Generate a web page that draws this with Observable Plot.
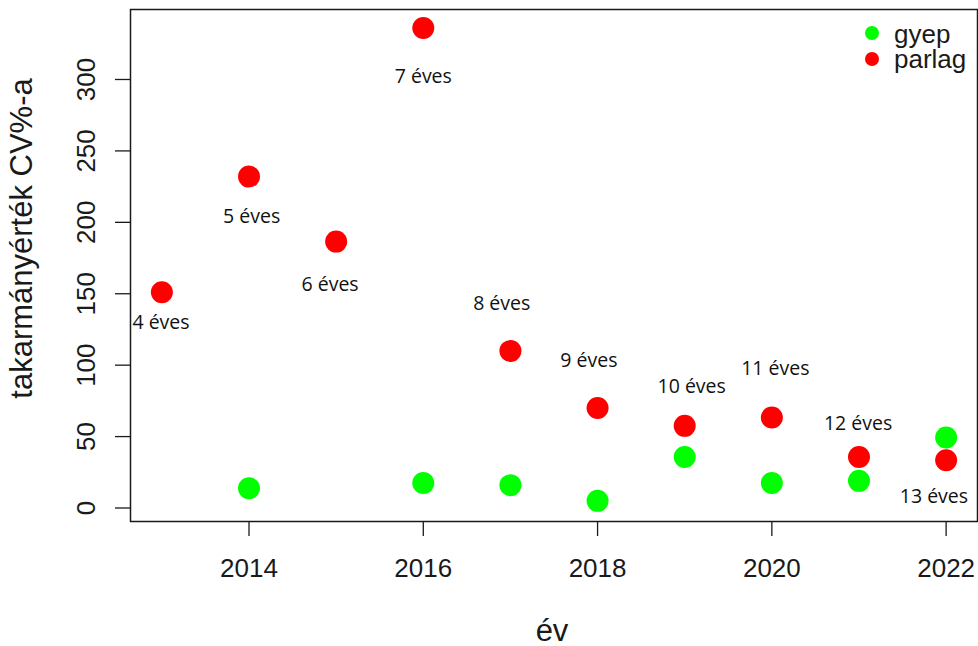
<!DOCTYPE html>
<html>
<head>
<meta charset="utf-8">
<script src="https://cdn.jsdelivr.net/npm/d3@7"></script>
<script src="https://cdn.jsdelivr.net/npm/@observablehq/plot@0.6"></script>
<style>
  html, body { margin: 0; padding: 0; background: #fff; }
  #chart { width: 978px; height: 646px; }
</style>
</head>
<body>
<div id="chart"></div>
<script>
// ---- data ----
const years   = [2013, 2014, 2015, 2016, 2017, 2018, 2019, 2020, 2021, 2022];
const parlag  = [151, 232, 186.5, 336, 110, 70, 57.5, 63.3, 35.7, 33.4];
const gyep    = [null, 13.8, null, 17.5, 16, 5, 35.7, 17.5, 19, 49.3];
const ageLabels = ["4 éves", "5 éves", "6 éves", "7 éves", "8 éves", "9 éves", "10 éves", "11 éves", "12 éves", "13 éves"];
const labelYear  = [2012.99, 2014.03, 2014.93, 2016.0, 2016.9, 2017.9, 2019.08, 2020.04, 2020.99, 2021.86];
const labelValue = [130, 203.7, 156.5, 301.7, 143.2, 103.3, 85.1, 97.7, 58.8, 7.7];
const xTicks = [2014, 2016, 2018, 2020, 2022];
const yTicks = [0, 50, 100, 150, 200, 250, 300];
const seriesNames = ["gyep", "parlag"];
const seriesColors = ["#00FF00", "#FF0000"];
const xTitle = "év";
const yTitle = "takarmányérték CV%-a";

// ---- tables built from the arrays ----
const gyepData = years.map((y, i) => ({year: y, value: gyep[i]})).filter(d => d.value != null);
const parlagData = years.map((y, i) => ({year: y, value: parlag[i]}));
const labelData = ageLabels.map((t, i) => ({text: t, year: labelYear[i], value: labelValue[i]}));

const FONT = "'Liberation Sans', Arial, Helvetica, sans-serif";

const chart = Plot.plot({
  width: 978,
  height: 646,
  marginLeft: 130,
  marginRight: 1,
  marginTop: 9,
  marginBottom: 125,
  style: {fontFamily: FONT, color: "#1a1a1a", background: "#fff", overflow: "visible"},
  x: {domain: [2012.64, 2022.36]},
  y: {domain: [-9.45, 349]},
  marks: [
    Plot.axisX({ticks: xTicks, tickSize: 15, tickPadding: 22, fontSize: 26, tickFormat: d => String(d), label: null, stroke: "#1a1a1a", strokeWidth: 1.3}),
    Plot.axisY({ticks: yTicks, tickSize: 15, tickFormat: () => "", label: null, stroke: "#1a1a1a", strokeWidth: 1.3}),
    Plot.text(yTicks, {y: d => d, text: d => String(d), frameAnchor: "left", dx: -44, rotate: -90, fontSize: 26, lineAnchor: "middle", textAnchor: "middle", fill: "#1a1a1a"}),
    Plot.text([yTitle], {frameAnchor: "left", dx: -108, dy: -27, rotate: -90, fontSize: 31, lineAnchor: "middle", textAnchor: "middle", fill: "#1a1a1a"}),
    Plot.text([xTitle], {frameAnchor: "bottom", dx: -2, dy: 110, fontSize: 31, lineAnchor: "middle", textAnchor: "middle", fill: "#1a1a1a"}),
    Plot.frame({stroke: "#1a1a1a", strokeWidth: 1.5}),
    Plot.dot(gyepData, {x: "year", y: "value", r: 11, fill: seriesColors[0], stroke: null}),
    Plot.dot(parlagData, {x: "year", y: "value", r: 11, fill: seriesColors[1], stroke: null}),
    Plot.text(labelData, {x: "year", y: "value", text: "text", fontSize: 19.5, fontFamily: "'Open Sans', 'Noto Sans', sans-serif", fill: "#111", lineAnchor: "middle"})
  ]
});

document.getElementById("chart").appendChild(chart);

// ---- legend (top-right, inside the plot box) ----
const svg = d3.select(chart);
const lg = svg.append("g").attr("font-family", FONT).attr("font-size", 26).attr("fill", "#1a1a1a").attr("text-anchor", "start");
seriesNames.forEach((name, i) => {
  lg.append("circle").attr("cx", 872).attr("cy", 33 + i * 26).attr("r", 7).attr("fill", seriesColors[i]);
  lg.append("text").attr("x", 894).attr("y", 43 + i * 25).attr("text-anchor", "start").text(name);
});
</script>
</body>
</html>
